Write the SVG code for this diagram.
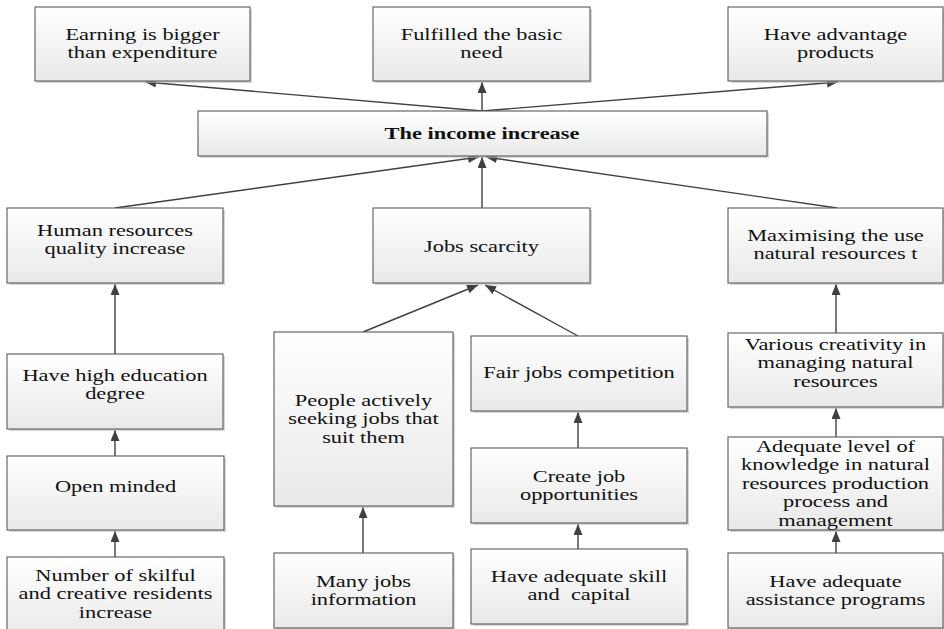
<svg xmlns="http://www.w3.org/2000/svg" width="944" height="629" viewBox="0 0 944 629">
  <defs>
    <linearGradient id="boxFill" x1="0" y1="0" x2="0" y2="1">
      <stop offset="0" stop-color="#ffffff"/>
      <stop offset="1" stop-color="#e9e9e9"/>
    </linearGradient>
    <marker id="arrow" markerUnits="userSpaceOnUse" markerWidth="12" markerHeight="10" refX="11" refY="4.5" orient="auto">
      <path d="M0,0 L11,4.5 L0,9 Z" fill="#404040"/>
    </marker>
  </defs>
  <style>
    .box { fill: url(#boxFill); stroke: #5a5a5a; stroke-width: 1.1; }
    .shadow { fill: #bcbcbc; opacity: 0.6; }
    .t { font-family: "Liberation Serif", "Times New Roman", serif; font-size: 16px; fill: #111; text-anchor: middle; }
    .b { font-weight: bold; }
    .link { stroke: #404040; stroke-width: 1.4; fill: none; marker-end: url(#arrow); }
  </style>

  <rect width="944" height="629" fill="#ffffff"/>

  <g id="connectors">
    <line class="link" x1="482" y1="111" x2="145" y2="82"/>
    <line class="link" x1="482" y1="111" x2="482" y2="82"/>
    <line class="link" x1="482" y1="111" x2="838" y2="82"/>
    <line class="link" x1="115" y1="208" x2="479" y2="157"/>
    <line class="link" x1="482" y1="208" x2="482" y2="157"/>
    <line class="link" x1="837" y1="208" x2="486" y2="157"/>
    <line class="link" x1="115" y1="354" x2="115" y2="284"/>
    <line class="link" x1="115" y1="456" x2="115" y2="430"/>
    <line class="link" x1="115" y1="557" x2="115" y2="531"/>
    <line class="link" x1="363" y1="332" x2="478" y2="285"/>
    <line class="link" x1="578" y1="336" x2="485" y2="285"/>
    <line class="link" x1="363" y1="553" x2="363" y2="507"/>
    <line class="link" x1="578" y1="448" x2="578" y2="412"/>
    <line class="link" x1="578" y1="549" x2="578" y2="524"/>
    <line class="link" x1="836" y1="333" x2="836" y2="284"/>
    <line class="link" x1="836" y1="437" x2="836" y2="408"/>
    <line class="link" x1="836" y1="553" x2="836" y2="531"/>
  </g>

  <g id="earning">
    <rect class="shadow" x="37" y="9" width="215" height="74"/>
    <rect class="box" x="35" y="7" width="215" height="74"/>
    <text class="t" transform="translate(142.5,0) scale(1.4,1)"><tspan x="0" y="40">Earning is bigger</tspan><tspan x="0" y="58.5">than expenditure</tspan></text>
  </g>

  <g id="basic-need">
    <rect class="shadow" x="375" y="9" width="217" height="74"/>
    <rect class="box" x="373" y="7" width="217" height="74"/>
    <text class="t" transform="translate(481.5,0) scale(1.4,1)"><tspan x="0" y="40">Fulfilled the basic</tspan><tspan x="0" y="58.5">need</tspan></text>
  </g>

  <g id="advantage">
    <rect class="shadow" x="731" y="9" width="215" height="74"/>
    <rect class="box" x="728" y="7" width="215" height="74"/>
    <text class="t" transform="translate(835.5,0) scale(1.4,1)"><tspan x="0" y="40">Have advantage</tspan><tspan x="0" y="58.5">products</tspan></text>
  </g>

  <g id="income">
    <rect class="shadow" x="200" y="113" width="569" height="45"/>
    <rect class="box" x="198" y="111" width="569" height="45"/>
    <text class="t b" transform="translate(482,0) scale(1.4,1)"><tspan x="0" y="139">The income increase</tspan></text>
  </g>

  <g id="human-resources">
    <rect class="shadow" x="9" y="210" width="216" height="75"/>
    <rect class="box" x="7" y="208" width="216" height="75"/>
    <text class="t" transform="translate(115,0) scale(1.4,1)"><tspan x="0" y="236">Human resources</tspan><tspan x="0" y="254.5">quality increase</tspan></text>
  </g>

  <g id="jobs-scarcity">
    <rect class="shadow" x="375" y="210" width="217" height="75"/>
    <rect class="box" x="373" y="208" width="217" height="75"/>
    <text class="t" transform="translate(481.5,0) scale(1.4,1)"><tspan x="0" y="252">Jobs scarcity</tspan></text>
  </g>

  <g id="maximising">
    <rect class="shadow" x="730" y="210" width="215" height="75"/>
    <rect class="box" x="728" y="208" width="215" height="75"/>
    <text class="t" transform="translate(835.5,0) scale(1.4,1)"><tspan x="0" y="241">Maximising the use</tspan><tspan x="0" y="259.5">natural resources t</tspan></text>
  </g>

  <g id="education">
    <rect class="shadow" x="9" y="356" width="216" height="75"/>
    <rect class="box" x="7" y="354" width="216" height="75"/>
    <text class="t" transform="translate(115,0) scale(1.4,1)"><tspan x="0" y="381">Have high education</tspan><tspan x="0" y="399.5">degree</tspan></text>
  </g>

  <g id="open-minded">
    <rect class="shadow" x="9" y="458" width="217" height="74"/>
    <rect class="box" x="7" y="456" width="217" height="74"/>
    <text class="t" transform="translate(115.5,0) scale(1.4,1)"><tspan x="0" y="492">Open minded</tspan></text>
  </g>

  <g id="skilful-residents">
    <rect class="shadow" x="9" y="559" width="217" height="80"/>
    <rect class="box" x="7" y="557" width="217" height="80"/>
    <text class="t" transform="translate(115.5,0) scale(1.4,1)"><tspan x="0" y="581">Number of skilful</tspan><tspan x="0" y="599.5">and creative residents</tspan><tspan x="0" y="618">increase</tspan></text>
  </g>

  <g id="seeking-jobs">
    <rect class="shadow" x="276" y="334" width="179" height="174"/>
    <rect class="box" x="274" y="332" width="179" height="174"/>
    <text class="t" transform="translate(363.5,0) scale(1.4,1)"><tspan x="0" y="406">People actively</tspan><tspan x="0" y="424.5">seeking jobs that</tspan><tspan x="0" y="443">suit them</tspan></text>
  </g>

  <g id="jobs-information">
    <rect class="shadow" x="276" y="555" width="179" height="75"/>
    <rect class="box" x="274" y="553" width="179" height="75"/>
    <text class="t" transform="translate(363.5,0) scale(1.4,1)"><tspan x="0" y="587">Many jobs</tspan><tspan x="0" y="605.5">information</tspan></text>
  </g>

  <g id="fair-competition">
    <rect class="shadow" x="473" y="338" width="216" height="75"/>
    <rect class="box" x="471" y="336" width="216" height="75"/>
    <text class="t" transform="translate(579,0) scale(1.4,1)"><tspan x="0" y="378">Fair jobs competition</tspan></text>
  </g>

  <g id="job-opportunities">
    <rect class="shadow" x="473" y="450" width="216" height="75"/>
    <rect class="box" x="471" y="448" width="216" height="75"/>
    <text class="t" transform="translate(579,0) scale(1.4,1)"><tspan x="0" y="482">Create job</tspan><tspan x="0" y="500.5">opportunities</tspan></text>
  </g>

  <g id="skill-capital">
    <rect class="shadow" x="473" y="551" width="216" height="75"/>
    <rect class="box" x="471" y="549" width="216" height="75"/>
    <text class="t" transform="translate(579,0) scale(1.4,1)"><tspan x="0" y="582">Have adequate skill</tspan><tspan x="0" y="600.5">and&#160; capital</tspan></text>
  </g>

  <g id="creativity">
    <rect class="shadow" x="730" y="335" width="215" height="74"/>
    <rect class="box" x="728" y="333" width="215" height="74"/>
    <text class="t" transform="translate(835.5,0) scale(1.4,1)"><tspan x="0" y="350">Various creativity in</tspan><tspan x="0" y="368.5">managing natural</tspan><tspan x="0" y="387">resources</tspan></text>
  </g>

  <g id="knowledge">
    <rect class="shadow" x="730" y="439" width="215" height="93"/>
    <rect class="box" x="728" y="437" width="215" height="93"/>
    <text class="t" transform="translate(835.5,0) scale(1.4,1)"><tspan x="0" y="452">Adequate level of</tspan><tspan x="0" y="470.5">knowledge in natural</tspan><tspan x="0" y="489">resources production</tspan><tspan x="0" y="507.5">process and</tspan><tspan x="0" y="526">management</tspan></text>
  </g>

  <g id="assistance">
    <rect class="shadow" x="730" y="555" width="215" height="75"/>
    <rect class="box" x="728" y="553" width="215" height="75"/>
    <text class="t" transform="translate(835.5,0) scale(1.4,1)"><tspan x="0" y="587">Have adequate</tspan><tspan x="0" y="605.5">assistance programs</tspan></text>
  </g>
</svg>
